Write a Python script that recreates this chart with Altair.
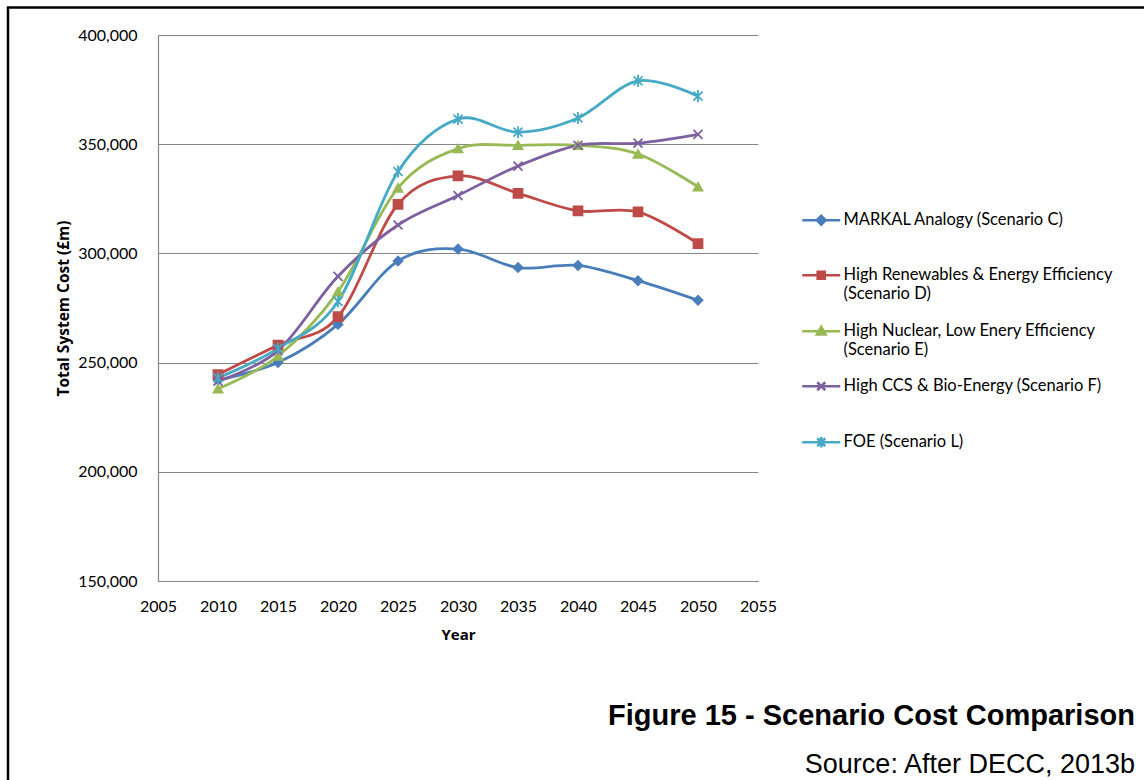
import altair as alt
import pandas as pd

# ---------------- data ----------------
years = [2010, 2015, 2020, 2025, 2030, 2035, 2040, 2045, 2050]
series_names = [
    "MARKAL Analogy (Scenario C)",
    "High Renewables & Energy Efficiency (Scenario D)",
    "High Nuclear, Low Enery Efficiency (Scenario E)",
    "High CCS & Bio-Energy (Scenario F)",
    "FOE (Scenario L)",
]
markal = [242000, 250000, 267500, 296500, 302000, 293500, 294500, 287500, 278500]
renewables = [244500, 258000, 271000, 322500, 335500, 327500, 319500, 319000, 304500]
nuclear = [238000, 253000, 282500, 330000, 348000, 349500, 349500, 345500, 330500]
ccs = [241500, 255500, 289500, 313000, 326500, 340000, 349500, 350500, 354500]
foe = [243000, 256500, 278000, 337500, 361500, 355500, 362000, 379000, 372000]

x_ticks = [2005, 2010, 2015, 2020, 2025, 2030, 2035, 2040, 2045, 2050, 2055]
y_ticks = [150000, 200000, 250000, 300000, 350000, 400000]
colors = ["#4A7EBB", "#BE4B48", "#98B954", "#7D60A0", "#46AAC5"]
marker_shapes = [
    "diamond",
    "square",
    "triangle-up",
    "M-1,-1L1,1M-1,1L1,-1",
    "M-1,-1L1,1M-1,1L1,-1M0,-1.35V1.35",
]
legend_shapes = [
    "M-4.75,0H4.75M-1.1,0L0,-1.1L1.1,0L0,1.1Z",
    "M-4.75,0H4.75M-0.9,-0.9H0.9V0.9H-0.9Z",
    "M-4.75,0H4.75M0,-1.1L1.1,0.8H-1.1Z",
    "M-4.75,0H4.75M-1,-1L1,1M-1,1L1,-1",
    "M-4.75,0H4.75M-1,-1L1,1M-1,1L1,-1M0,-1.3V1.3",
]
title_text = ["Figure 15 - Scenario Cost Comparison"]
source_text = ["Source: After DECC, 2013b"]

rows = []
for name, vals in zip(series_names, [markal, renewables, nuclear, ccs, foe]):
    for yr, v in zip(years, vals):
        rows.append({"series": name, "year": yr, "cost": v})
df = pd.DataFrame(rows)

FONT = "Lato"
TFONT = "Open Sans"
GRID = "#868686"

x_enc = alt.X(
    "year:Q",
    scale=alt.Scale(domain=[2005, 2055], nice=False, zero=False),
    axis=alt.Axis(
        values=x_ticks, format="d", title="Year", grid=False, ticks=False, tickSize=0,
        labelFlush=False, labelOverlap=False,
        labelPadding=17, titlePadding=13, domainColor=GRID, domainWidth=1.2,
        labelFont=FONT, labelFontSize=16, labelColor="#000000",
        titleFont=TFONT, titleFontSize=15, titleFontWeight="bold", titleColor="#000000",
    ),
)
y_enc = alt.Y(
    "cost:Q",
    scale=alt.Scale(domain=[150000, 400000], nice=False, zero=False),
    axis=alt.Axis(
        values=y_ticks, format=",.0f", title="Total System Cost (£m)", grid=True,
        gridColor=GRID, gridWidth=1.2, ticks=False, tickSize=0,
        labelFlush=False, labelOverlap=False,
        labelPadding=21, titlePadding=6, domainColor=GRID, domainWidth=1.2,
        labelFont=FONT, labelFontSize=16, labelColor="#000000",
        titleFont=TFONT, titleFontSize=15.5, titleFontWeight="bold", titleColor="#000000",
    ),
)
color_scale = alt.Scale(domain=series_names, range=colors)

frame = alt.Chart(pd.DataFrame({"k": [0]})).mark_rect(
    fillOpacity=0, stroke="#000000", strokeWidth=2.5
).encode(
    x=alt.value(-150), x2=alt.value(995), y=alt.value(-27.5), y2=alt.value(760)
)

lines = alt.Chart(df).mark_line(interpolate="cardinal", strokeWidth=2.8).encode(
    x=x_enc, y=y_enc,
    color=alt.Color("series:N", scale=color_scale, legend=None),
)

points = alt.Chart(df).mark_point(filled=True, size=80, strokeWidth=1.8, opacity=1).encode(
    x=x_enc, y=y_enc,
    color=alt.Color("series:N", scale=color_scale, legend=None),
    stroke=alt.Stroke("series:N", scale=color_scale, legend=None),
    shape=alt.Shape("series:N", scale=alt.Scale(domain=series_names, range=marker_shapes), legend=None),
)

legend_def = alt.Legend(
    title=None, orient="none", legendX=655, legendY=177,
    symbolSize=64, symbolStrokeWidth=2.5, symbolOpacity=1,
    labelFont=FONT, labelFontSize=16.5, labelColor="#000000", labelLimit=400,
    labelOffset=14, rowPadding=18, padding=0,
    labelExpr="length(datum.label) > 40 ? [slice(datum.label, 0, lastindexof(datum.label, ' (')), slice(datum.label, lastindexof(datum.label, ' (') + 1)] : [datum.label, '']",
)
legend_layer = alt.Chart(df).transform_filter("datum.year < 0").mark_point(filled=True).encode(
    x=x_enc, y=y_enc,
    fill=alt.Fill("series:N", scale=color_scale, legend=legend_def),
    stroke=alt.Stroke("series:N", scale=color_scale, legend=legend_def),
    shape=alt.Shape("series:N", scale=alt.Scale(domain=series_names, range=legend_shapes), legend=legend_def),
)

title_layer = alt.Chart(pd.DataFrame({"t": title_text})).mark_text(
    align="right", baseline="alphabetic", font="Liberation Sans", fontSize=29, fontWeight="bold", color="#000000"
).encode(text="t:N", x=alt.value(977), y=alt.value(690))

source_layer = alt.Chart(pd.DataFrame({"t": source_text})).mark_text(
    align="right", baseline="alphabetic", font="Liberation Sans", fontSize=27, color="#000000"
).encode(text="t:N", x=alt.value(977), y=alt.value(738))

chart = alt.layer(
    frame, lines, points, legend_layer, title_layer, source_layer
).resolve_scale(
    shape="independent", fill="independent", stroke="independent"
).properties(
    width=600, height=546,
    autosize=alt.AutoSizeParams(type="none"),
    padding={"left": 158, "top": 35, "right": 386, "bottom": 199},
    background="#ffffff",
).configure_view(stroke=None)

chart.save("out.html", embed_options={"renderer": "svg", "actions": False})
